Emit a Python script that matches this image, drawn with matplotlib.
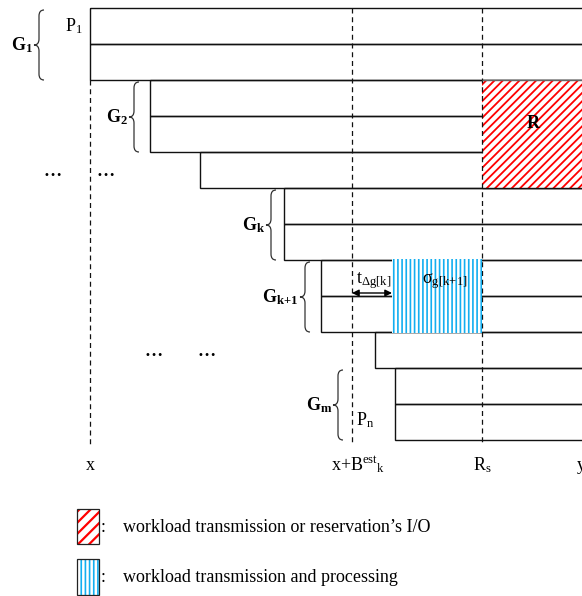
import matplotlib.pyplot as plt
from matplotlib.patches import Rectangle, PathPatch
from matplotlib.path import Path

plt.rcParams['font.family'] = ['Liberation Serif', 'DejaVu Serif']
plt.rcParams['mathtext.fontset'] = 'custom'
plt.rcParams['mathtext.rm'] = 'Liberation Serif'
plt.rcParams['mathtext.it'] = 'Liberation Serif:italic'
plt.rcParams['mathtext.bf'] = 'Liberation Serif:bold'

# sketch units: x = time, y = processor rows (top to bottom)
row_start = [90, 90, 150, 150, 200, 284, 284, 321, 321, 375, 395, 395]

# groups of processors: first row, last row, brace position, label
group_rows = [(0, 1), (2, 3), (5, 6), (7, 8), (10, 11)]
group_brace_x = [44, 139, 276, 310, 343]
group_labels = [r'G$_{\mathbf{1}}$', r'G$_{\mathbf{2}}$', r'G$_{\mathbf{k}}$',
                r'G$_{\mathbf{k\!+\!1}}$', r'G$_{\mathbf{m}}$']

# time marks on the bottom
mark_x = [90, 352, 482]
mark_labels = ['x', r'x+B$^{\rm est}{}_{\rm k}$', r'R$_{\rm s}$']

# reservation block R and the processing block sigma
reserve_rows = (2, 4)
reserve_span = (482, 600)
proc_rows = (7, 8)
proc_span = (392, 482)

legend_texts = ['workload transmission or reservation\u2019s I/O',
                'workload transmission and processing']

RED = '#ff0000'
BLUE = '#12aef0'
FS = 13
Y0 = 8
ROW_H = 36


def row_y(i):
    return Y0 + ROW_H * i


def draw_brace(ax, x_end, y_top, y_bot, depth=10, r=6):
    xm = x_end - depth / 2
    xt = x_end - depth
    ym = (y_top + y_bot) / 2
    verts = [(x_end, y_top), (xm, y_top), (xm, y_top + r),
             (xm, ym - r), (xm, ym), (xt, ym), (xm, ym), (xm, ym + r),
             (xm, y_bot - r), (xm, y_bot), (x_end, y_bot)]
    codes = [Path.MOVETO, Path.CURVE3, Path.CURVE3, Path.LINETO,
             Path.CURVE3, Path.CURVE3, Path.CURVE3, Path.CURVE3,
             Path.LINETO, Path.CURVE3, Path.CURVE3]
    ax.add_patch(PathPatch(Path(verts, codes), fill=False, lw=0.9,
                           edgecolor='#333333', zorder=5))
    return xt, ym


fig = plt.figure(figsize=(5.82, 5.96), dpi=100)
ax = fig.add_axes([0, 0, 1, 1])
ax.set_xlim(0, 582)
ax.set_ylim(596, 0)
ax.axis('off')

# processor rows
for i, x0 in enumerate(row_start):
    ax.add_patch(Rectangle((x0, row_y(i)), 700, ROW_H, fill=False,
                           edgecolor='#111111', lw=1.0, zorder=2))

# reservation block (red hatch)
plt.rcParams['hatch.linewidth'] = 1.3
r_top, r_bot = row_y(reserve_rows[0]), row_y(reserve_rows[1] + 1)
ax.add_patch(Rectangle((reserve_span[0], r_top), reserve_span[1] - reserve_span[0],
                       r_bot - r_top, facecolor='white', edgecolor=RED,
                       hatch='////', lw=0, zorder=3))
ax.hlines([r_top, r_bot], reserve_span[0], reserve_span[1],
          colors=['#666666', '#111111'], lw=1.0, zorder=4)
ax.text(533, (r_top + r_bot) / 2 - 11, 'R', fontsize=FS, fontweight='bold',
        ha='center', va='center', zorder=6)

# processing block (blue vertical lines)
plt.rcParams['hatch.linewidth'] = 1.2
p_top, p_bot = row_y(proc_rows[0]), row_y(proc_rows[1] + 1)
ax.add_patch(Rectangle((proc_span[0], p_top - 0.8), proc_span[1] - proc_span[0],
                       p_bot - p_top + 1.6, facecolor='white', edgecolor=BLUE,
                       hatch='||||', lw=0, zorder=4))
ax.text(proc_span[0] + 30, p_top + 21, '\u03c3' + r'$_{\rm g[k\!+\!1]}$',
        fontsize=FS, ha='left', va='center', zorder=6)

# dashed time marks
for xm in mark_x:
    top = Y0 if xm != mark_x[0] else row_y(2)
    ax.vlines(xm, top, 445, colors='#111111', lw=0.9,
              linestyles=(0, (4, 3)), zorder=3.5)
for xm, lab in zip(mark_x, mark_labels):
    ax.text(xm + (6 if xm == mark_x[1] else 0), 465, lab, fontsize=FS,
            ha='center', va='center')
ax.text(577, 465, 'y', fontsize=FS, ha='left', va='center')

# t_delta arrow
ax.annotate('', xy=(proc_span[0], 293), xytext=(mark_x[1], 293),
            arrowprops=dict(arrowstyle='<|-|>', color='black', lw=1.0,
                            shrinkA=0, shrinkB=0, mutation_scale=10), zorder=6)
ax.text(mark_x[1] + 4, 281, r't$_{\Delta\rm g[k]}$', fontsize=FS,
        ha='left', va='center', zorder=6)

# group braces and labels
for (r0, r1), bx, lab in zip(group_rows, group_brace_x, group_labels):
    y_top, y_bot = row_y(r0) + 2, row_y(r1 + 1)
    xt, ym = draw_brace(ax, bx, y_top, y_bot)
    ax.text(xt - 1, ym, lab, fontsize=FS, fontweight='bold',
            ha='right', va='center')

# processor names
ax.text(65, 26, r'P$_{\rm 1}$', fontsize=FS, ha='left', va='center')
ax.text(356, 420, r'P$_{\rm n}$', fontsize=FS, ha='left', va='center')

# ellipses
for ex, ey in [(53, 172), (106, 172), (154, 352), (207, 352)]:
    ax.text(ex, ey, '\u2026', fontsize=FS, fontweight='bold',
            ha='center', va='center')

# legend
plt.rcParams['hatch.linewidth'] = 1.6
ax.add_patch(Rectangle((77, 509), 22, 35, facecolor='white', edgecolor=RED,
                       hatch='///', lw=0, zorder=3))
ax.add_patch(Rectangle((77, 509), 22, 35, fill=False, edgecolor='#222222',
                       lw=0.9, zorder=4))
plt.rcParams['hatch.linewidth'] = 1.2
ax.add_patch(Rectangle((77, 559), 22, 36, facecolor='white', edgecolor=BLUE,
                       hatch='||||', lw=0, zorder=3))
ax.add_patch(Rectangle((77, 559), 22, 36, fill=False, edgecolor='#222222',
                       lw=0.9, zorder=4))
for ty, txt in zip([528, 577], legend_texts):
    ax.text(101, ty, ':', fontsize=FS, ha='left', va='center')
    ax.text(123, ty, txt, fontsize=FS, ha='left', va='center')

fig.savefig('out.png', dpi=100)
